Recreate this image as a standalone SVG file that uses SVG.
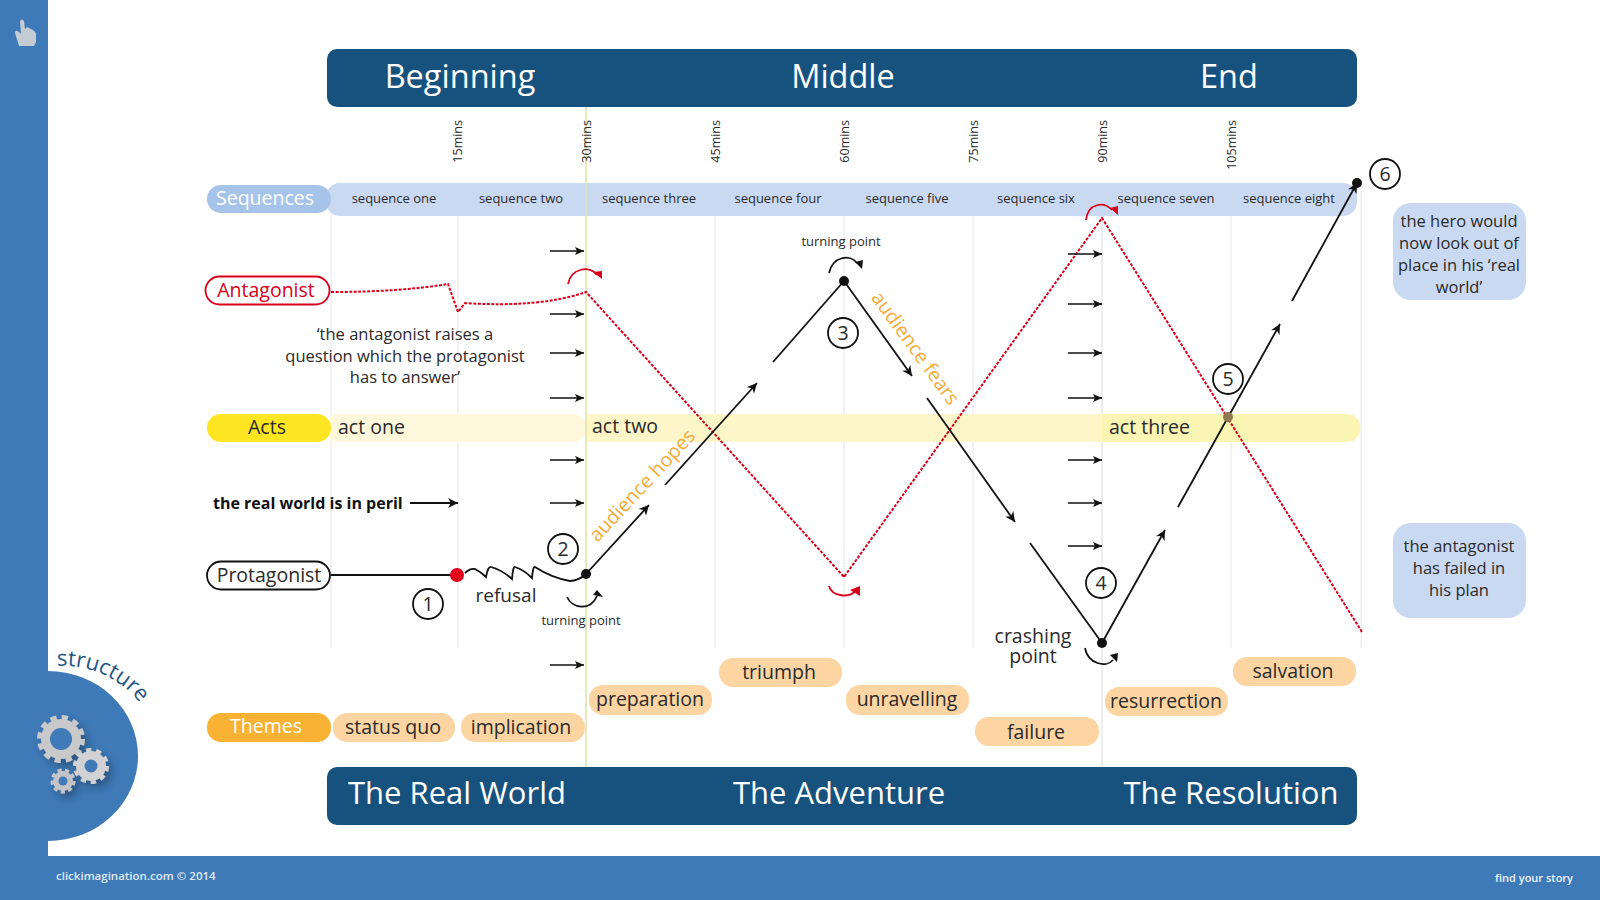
<svg xmlns="http://www.w3.org/2000/svg" width="1600" height="900" viewBox="0 0 1600 900">
<style>
text{font-family:"Open Sans","Noto Sans","Liberation Sans",sans-serif;fill:#2a2a2a}
.c{text-anchor:middle}
.w{fill:#fff}
.grid{stroke:#e6e6e6;stroke-width:1;fill:none}
.bl{stroke:#111;stroke-width:1.8;fill:none}
.ar{stroke:#111;stroke-width:1.8;fill:none;marker-end:url(#ah)}
.st{stroke:#111;stroke-width:1.6;fill:none;marker-end:url(#as)}
.rd{stroke:#d9001b;stroke-width:2;fill:none;stroke-dasharray:3 1.5}
.num{fill:#fff;stroke:#111;stroke-width:1.8}
.th{fill:#fdd5a3}
.note{fill:#c9d9f2}
.cv{fill:none;stroke:#111;stroke-width:1.8}
.cvr{fill:none;stroke:#d9001b;stroke-width:1.8}
.min{font-size:12.5px;text-anchor:end}
.seq{font-size:13px}
.t20{font-size:19.5px}
.t17{font-size:16.5px}
.hd{font-size:32.5px}
.hb{font-size:31px}
</style>
<defs>
<marker id="ah" markerUnits="userSpaceOnUse" markerWidth="12" markerHeight="12" refX="10" refY="5" orient="auto"><path d="M0 0L10 5L0 10L3 5Z" fill="#111"/></marker>
<marker id="as" markerUnits="userSpaceOnUse" markerWidth="10" markerHeight="10" refX="9" refY="4" orient="auto"><path d="M0 0L9 4L0 8L2 4Z" fill="#111"/></marker>
<filter id="sh" x="-30%" y="-30%" width="170%" height="170%"><feDropShadow dx="4" dy="5" stdDeviation="4" flood-color="#1b3a5c" flood-opacity=".6"/></filter>
<path id="arc" d="M57 666A95 90 0 0 1 148 716"/>
</defs>
<rect width="1600" height="900" fill="#fff"/>
<g id="frame">
<rect x="0" y="0" width="48" height="900" fill="#3f7ab8"/>
<rect x="0" y="856" width="1600" height="44" fill="#3f7ab8"/>
<path d="M48 671A90 85 0 0 1 48 841Z" fill="#3f7ab8"/>
<text x="56" y="880" font-size="11.5" font-weight="600" style="fill:#dfe9f5">clickimagination.com  ©  2014</text>
<text x="1573" y="882" font-size="11" font-weight="600" text-anchor="end" style="fill:#eef3fa">find your story</text>
<text font-size="22" style="fill:#1f5685"><textPath href="#arc">structure</textPath></text>
<path d="M19 46L15 33Q15 29 19 32L21 34L20 21Q22 18 24 21L25 29L27 27L29 28L31 29L33 30L36 33L36 42L34 46Z" fill="#c5cbd3"/>
</g>
<g id="gears" filter="url(#sh)">
<g transform="translate(61,739)"><circle r="20" fill="#c9c9cb"/><circle r="21" fill="none" stroke="#c9c9cb" stroke-width="6" stroke-dasharray="6 5"/><circle r="11" fill="#3f7ab8"/></g>
<g transform="translate(91,766)"><circle r="15" fill="#d2d2d4"/><circle r="15.500" fill="none" stroke="#d2d2d4" stroke-width="5" stroke-dasharray="5 4.700"/><circle r="6.500" fill="#3f7ab8"/></g>
<g transform="translate(63,781)"><circle r="10" fill="#c4c4c6"/><circle r="10.500" fill="none" stroke="#c4c4c6" stroke-width="4" stroke-dasharray="4 3.300"/><circle r="4.500" fill="#3f7ab8"/></g>
</g>
<g id="grid">
<path class="grid" d="M331 190V648M458 190V648M715 190V648M844 190V648M973 190V648M1231 190V648M1361 190V648"/>
<path d="M1102 190V767" stroke="#dcdcdc" fill="none"/>
</g>
<g id="bands">
<rect x="326" y="183" width="1031" height="33" rx="14" fill="#c9d9f2"/>
<rect x="326" y="414" width="260" height="28" rx="13" fill="#fdf8dc"/>
<rect x="586" y="414" width="516" height="28" fill="#fdf6c8"/>
<path d="M1102 414H1347A13.500 14 0 0 1 1347 442H1102Z" fill="#fbf5b4"/>
<path d="M586 107V767" stroke="#dde3a8" stroke-width="1.500" fill="none"/>
</g>
<g id="hdr-top"><rect x="327" y="49" width="1030" height="58" rx="10" fill="#17527f"/>
<text class="c w hd" x="460" y="88">Beginning</text><text class="c w hd" x="843" y="88">Middle</text><text class="c w hd" x="1229" y="88">End</text></g>
<g id="hdr-bottom"><rect x="327" y="767" width="1030" height="58" rx="10" fill="#17527f"/>
<text class="c w hb" x="457" y="804">The Real World</text><text class="c w hb" x="839" y="804">The Adventure</text><text class="c w hb" x="1231" y="804">The Resolution</text></g>
<g id="minutes">
<text class="min" transform="translate(462,120) rotate(-90)">15mins</text>
<text class="min" transform="translate(591,120) rotate(-90)">30mins</text>
<text class="min" transform="translate(720,120) rotate(-90)">45mins</text>
<text class="min" transform="translate(849,120) rotate(-90)">60mins</text>
<text class="min" transform="translate(978,120) rotate(-90)">75mins</text>
<text class="min" transform="translate(1107,120) rotate(-90)">90mins</text>
<text class="min" transform="translate(1236,120) rotate(-90)">105mins</text>
</g>
<g id="sequences">
<text class="c seq" x="394" y="203">sequence one</text>
<text class="c seq" x="521" y="203">sequence two</text>
<text class="c seq" x="649" y="203">sequence three</text>
<text class="c seq" x="778" y="203">sequence four</text>
<text class="c seq" x="907" y="203">sequence five</text>
<text class="c seq" x="1036" y="203">sequence six</text>
<text class="c seq" x="1166" y="203">sequence seven</text>
<text class="c seq" x="1289" y="203">sequence eight</text>
</g>
<g id="act-labels">
<text class="t20" x="338" y="434">act one</text><text class="t20" x="592" y="433">act two</text><text class="t20" x="1109" y="434">act three</text>
</g>
<g id="pill-sequences"><rect x="207" y="185" width="124" height="28" rx="14" fill="#a6c4e9"/><text class="c w t20" x="265" y="205">Sequences</text></g>
<g id="pill-antagonist"><rect x="205.500" y="276.500" width="124" height="28" rx="14" fill="#fff" stroke="#d9001b" stroke-width="1.800"/><text class="c t20" style="fill:#d9001b" x="266" y="297">Antagonist</text></g>
<g id="pill-acts"><rect x="207" y="414" width="124" height="28" rx="14" fill="#fde521"/><text class="c t20" x="267" y="434">Acts</text></g>
<g id="pill-protagonist"><rect x="207" y="561.500" width="123" height="28" rx="14" fill="#fff" stroke="#111" stroke-width="1.800"/><text class="c t20" x="269" y="582">Protagonist</text></g>
<g id="pill-themes"><rect x="207" y="713" width="124" height="29" rx="14" fill="#f9b233"/><text class="c w t20" x="266" y="733">Themes</text></g>
<g id="themes">
<rect class="th" x="333" y="713" width="122" height="29" rx="14"/><text class="c t20" x="393" y="734">status quo</text>
<rect class="th" x="461" y="713" width="124" height="29" rx="14"/><text class="c t20" x="521" y="734">implication</text>
<rect class="th" x="589" y="685" width="123" height="30" rx="14"/><text class="c t20" x="650" y="706">preparation</text>
<rect class="th" x="719" y="658" width="123" height="29" rx="14"/><text class="c t20" x="779" y="679">triumph</text>
<rect class="th" x="846" y="685" width="123" height="30" rx="14"/><text class="c t20" x="907" y="706">unravelling</text>
<rect class="th" x="975" y="717" width="124" height="29" rx="14"/><text class="c t20" x="1036" y="739">failure</text>
<rect class="th" x="1105" y="687" width="123" height="29" rx="14"/><text class="c t20" x="1166" y="708">resurrection</text>
<rect class="th" x="1233" y="657" width="123" height="29" rx="14"/><text class="c t20" x="1293" y="678">salvation</text>
</g>
<g id="notes">
<rect class="note" x="1393" y="203" width="133" height="97" rx="18"/>
<text class="c t17" x="1459" y="227">the hero would</text><text class="c t17" x="1459" y="249">now look out of</text><text class="c t17" x="1459" y="271">place in his ‘real</text><text class="c t17" x="1459" y="293">world’</text>
<rect class="note" x="1393" y="523" width="133" height="95" rx="18"/>
<text class="c t17" x="1459" y="552">the antagonist</text><text class="c t17" x="1459" y="574">has failed in</text><text class="c t17" x="1459" y="596">his plan</text>
</g>
<g id="connectors">
<path class="rd" d="M331 292Q400 292 448 284L458 312L465 303Q540 308 586 292L844 577L1102 218L1362 632"/>
<path class="bl" d="M331 575H457"/>
<path class="bl" d="M465 573Q470 568 475 569Q481 572 486 577Q488 566 491 567Q502 570 512 579Q513 566 515 567Q524 570 532 578Q533 566 535 567Q552 578 570 581Q578 581 586 574"/>
<path class="ar" d="M586 574L649 505"/><path class="ar" d="M665 485L757 383"/><path class="bl" d="M773 362L844 281"/>
<path class="ar" d="M844 281L912 376"/><path class="ar" d="M927 398L1015 522"/><path class="bl" d="M1030 543L1102 643"/>
<path class="ar" d="M1102 643L1165 530"/><path class="ar" d="M1178 507L1280 324"/><path class="ar" d="M1292 301L1357 183"/>
<path class="ar" d="M410 503H458"/>
<path class="st" d="M550 251H584"/><path class="st" d="M550 314H584"/><path class="st" d="M550 353H584"/><path class="st" d="M550 398H584"/><path class="st" d="M550 460H584"/><path class="st" d="M550 503H584"/><path class="st" d="M550 665H584"/>
<path class="st" d="M1068 254H1102"/><path class="st" d="M1068 304H1102"/><path class="st" d="M1068 353H1102"/><path class="st" d="M1068 398H1102"/><path class="st" d="M1068 460H1102"/><path class="st" d="M1068 503H1102"/><path class="st" d="M1068 546H1102"/>
<path class="cv" d="M567 597C572 608 590 612 597 596"/><path d="M593 595L597 590L603 597Z" fill="#111"/>
<path class="cv" d="M829 273C833 256 850 254 857 263"/><path d="M855 262L863 260L862 269Z" fill="#111"/>
<path class="cv" d="M1085 648C1088 664 1106 668 1113 660"/><path d="M1110 655L1118 653L1117 662Z" fill="#111"/>
<path class="cvr" d="M568 284C571 268 590 265 597 275"/><path d="M593 272L602 271L602 279Z" fill="#d9001b"/>
<path class="cvr" d="M829 586C832 597 850 598 855 591"/><path d="M850 590L860 586L860 596Z" fill="#d9001b"/>
<path class="cvr" d="M1086 220C1088 203 1104 201 1112 210"/><path d="M1110 208L1118 206L1118 215Z" fill="#d9001b"/>
</g>
<g id="dots">
<circle cx="457" cy="575" r="7" fill="#e2001a"/><circle cx="586" cy="574" r="5" fill="#111"/><circle cx="844" cy="281" r="5" fill="#111"/><circle cx="1102" cy="643" r="5" fill="#111"/><circle cx="1357" cy="183" r="5" fill="#111"/><circle cx="1228" cy="417" r="5" fill="#8c7b50"/>
</g>
<g id="numbers">
<circle class="num" cx="428" cy="604" r="15"/><text class="c t20" x="428" y="611">1</text>
<circle class="num" cx="563" cy="549" r="15"/><text class="c t20" x="563" y="556">2</text>
<circle class="num" cx="843" cy="333" r="15"/><text class="c t20" x="843" y="340">3</text>
<circle class="num" cx="1101" cy="583" r="15"/><text class="c t20" x="1101" y="590">4</text>
<circle class="num" cx="1228" cy="379" r="15"/><text class="c t20" x="1228" y="386">5</text>
<circle class="num" cx="1385" cy="174" r="15"/><text class="c t20" x="1385" y="181">6</text>
</g>
<g id="labels">
<text class="c t17" x="405" y="340">‘the antagonist raises a</text><text class="c t17" x="405" y="362">question which the protagonist</text><text class="c t17" x="405" y="383">has to answer’</text>
<text x="213" y="509" font-size="16" font-weight="700" style="fill:#111">the real world is in peril</text>
<text class="c" x="506" y="602" font-size="19">refusal</text>
<text class="c" x="581" y="625" font-size="13">turning point</text>
<text class="c" x="841" y="246" font-size="13">turning point</text>
<text class="c" x="1033" y="643" font-size="19.500">crashing</text><text class="c" x="1033" y="663" font-size="19.500">point</text>
<text class="c" style="fill:#f5ab3c" transform="translate(647,490) rotate(-47)" font-size="19.700">audience hopes</text>
<text class="c" style="fill:#f5ab3c" transform="translate(910,352) rotate(54)" font-size="19.600">audience fears</text>
</g>
</svg>
